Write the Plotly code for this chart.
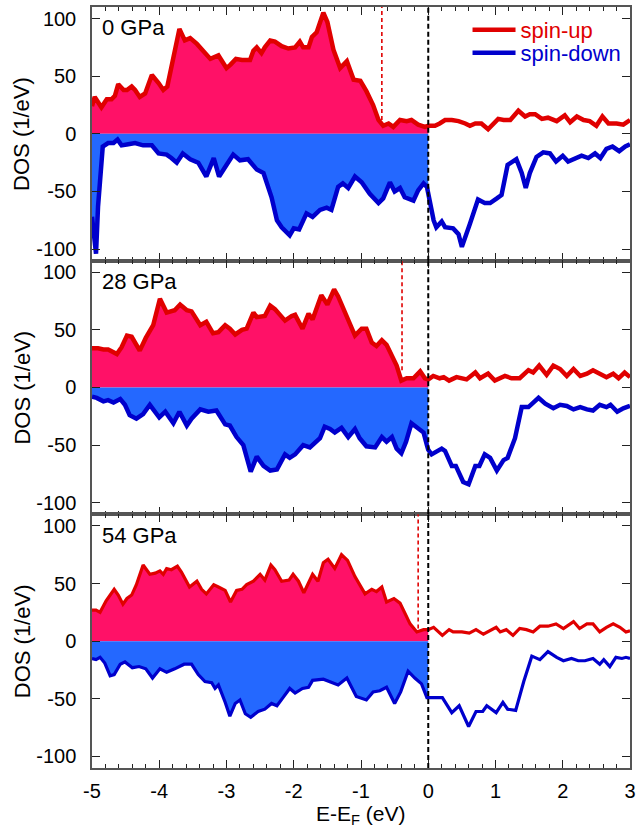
import plotly.graph_objects as go
from plotly.subplots import make_subplots

# ---------------- data ----------------
PRESSURES = ["0 GPa", "28 GPa", "54 GPa"]

E_up_0 = [-5.00,-4.96,-4.86,-4.78,-4.71,-4.66,-4.61,-4.53,-4.48,-4.41,-4.36,-4.29,-4.21,-4.11,-4.01,-3.94,-3.88,-3.80,-3.70,-3.62,
          -3.54,-3.44,-3.32,-3.24,-3.12,-3.00,-2.94,-2.86,-2.77,-2.65,-2.60,-2.55,-2.48,-2.43,-2.35,-2.28,-2.18,-2.08,-1.98,-1.91,
          -1.86,-1.78,-1.73,-1.66,-1.56,-1.50,-1.41,-1.31,-1.21,-1.11,-1.01,-0.92,-0.82,-0.74,-0.67,-0.59,-0.52,-0.42,-0.32,-0.25,
          -0.15,-0.05,0.00,
          0.10,0.17,0.25,0.35,0.45,0.55,0.62,0.70,0.79,0.89,0.97,1.04,1.12,1.22,1.34,1.44,1.51,1.59,1.69,1.78,
          1.91,2.03,2.11,2.21,2.31,2.40,2.50,2.59,2.68,2.80,2.90,3.00]
up_0 = [24,32,23,30,30,33,43,38,38,41,38,32,35,51,44,38,41,65,91,81,
        83,78,70,65,68,57,60,65,64,64,72,75,70,75,81,80,76,74,75,80,
        75,75,84,88,105,97,73,57,63,47,46,37,25,12,7,9,6,12,11,12,
        8,6,7,
        7,9,12,12,11,9,7,9,9,4,9,13,12,12,20,15,17,17,13,14,
        11,16,10,15,12,11,7,15,9,9,8,12]

E_dn_0 = [-5.00,-4.94,-4.91,-4.84,-4.76,-4.68,-4.62,-4.56,-4.46,-4.36,-4.24,-4.11,-4.01,-3.89,-3.82,-3.74,-3.65,-3.54,-3.42,-3.30,
          -3.19,-3.11,-3.00,-2.90,-2.80,-2.68,-2.55,-2.45,-2.33,-2.25,-2.18,-2.11,-2.06,-2.00,-1.92,-1.81,-1.72,-1.61,-1.51,-1.44,
          -1.34,-1.27,-1.19,-1.09,-0.99,-0.87,-0.74,-0.67,-0.57,-0.50,-0.42,-0.35,-0.22,-0.15,-0.07,-0.02,0.00,0.04,
          0.08,0.12,0.20,0.25,0.37,0.45,0.50,0.62,0.74,0.84,0.92,1.02,1.09,1.18,1.31,1.39,1.45,1.51,1.61,1.71,
          1.81,1.90,2.00,2.08,2.18,2.28,2.38,2.48,2.56,2.65,2.74,2.84,2.93,3.00]
dn_0 = [-72,-104,-63,-11,-8,-8,-5,-10,-9,-8,-10,-10,-17,-18,-21,-25,-17,-22,-25,-37,
        -21,-37,-27,-18,-23,-22,-31,-34,-55,-75,-81,-85,-88,-82,-83,-69,-72,-66,-64,-66,
        -46,-43,-47,-37,-42,-52,-60,-56,-42,-50,-47,-55,-58,-49,-43,-46,-52,-62,
        -75,-81,-76,-81,-82,-87,-98,-78,-57,-60,-60,-56,-53,-27,-22,-34,-47,-34,-20,-16,
        -17,-24,-19,-24,-21,-19,-21,-17,-21,-13,-11,-15,-11,-9]

E_up_28 = [-5.00,-4.91,-4.83,-4.76,-4.63,-4.56,-4.48,-4.41,-4.29,-4.20,-4.09,-3.99,-3.89,-3.77,-3.69,-3.59,-3.52,-3.39,-3.30,-3.20,
           -3.12,-3.02,-2.95,-2.87,-2.77,-2.70,-2.60,-2.55,-2.43,-2.35,-2.28,-2.13,-2.03,-1.98,-1.87,-1.78,-1.72,-1.59,-1.50,-1.40,
           -1.34,-1.21,-1.09,-0.99,-0.92,-0.84,-0.77,-0.69,-0.62,-0.47,-0.40,-0.32,-0.22,-0.12,-0.05,0.00,
           0.075,0.17,0.23,0.31,0.42,0.57,0.70,0.77,0.89,0.99,1.14,1.24,1.36,1.49,1.56,1.65,1.76,1.86,1.96,2.06,
           2.16,2.26,2.36,2.45,2.55,2.65,2.75,2.83,2.92,3.00]
up_28 = [34,34,33,33,29,35,45,44,32,43,54,77,65,67,72,67,66,54,57,47,
         48,54,51,46,50,51,65,61,62,71,68,58,62,63,51,64,59,80,72,85,
         79,60,45,51,51,39,36,41,37,19,6,8,8,14,8,7,
         10,8,9,6,9,7,13,8,12,6,10,8,8,15,13,19,11,19,16,10,
         16,10,12,15,12,9,12,8,13,9]

E_dn_28 = [-5.00,-4.93,-4.83,-4.76,-4.68,-4.58,-4.51,-4.44,-4.34,-4.24,-4.14,-4.00,-3.91,-3.79,-3.70,-3.59,-3.52,-3.39,-3.27,-3.15,
           -3.02,-2.95,-2.85,-2.75,-2.64,-2.55,-2.45,-2.35,-2.25,-2.13,-2.06,-1.98,-1.86,-1.76,-1.61,-1.54,-1.46,-1.39,-1.29,-1.19,
           -1.09,-1.02,-0.92,-0.79,-0.69,-0.62,-0.54,-0.47,-0.40,-0.33,-0.25,-0.15,-0.07,-0.02,0.00,
           0.05,0.10,0.20,0.25,0.35,0.41,0.52,0.60,0.70,0.76,0.84,0.92,1.02,1.12,1.18,1.29,1.39,1.49,1.64,1.74,
           1.86,1.96,2.06,2.16,2.26,2.36,2.45,2.55,2.65,2.71,2.81,2.90,3.00]
dn_28 = [-8,-9,-12,-11,-13,-10,-15,-24,-27,-23,-15,-26,-21,-31,-21,-33,-27,-19,-21,-20,
         -32,-33,-43,-50,-73,-60,-68,-72,-71,-58,-61,-58,-50,-52,-44,-34,-36,-39,-35,-43,
         -36,-44,-51,-52,-43,-47,-43,-53,-57,-47,-31,-35,-39,-50,-54,
         -58,-56,-53,-55,-68,-68,-82,-84,-68,-68,-58,-61,-72,-63,-61,-44,-17,-17,-9,-14,
         -18,-15,-16,-19,-17,-19,-20,-15,-17,-15,-21,-18,-16]

E_up_54 = [-5.00,-4.94,-4.88,-4.79,-4.67,-4.61,-4.54,-4.48,-4.41,-4.34,-4.24,-4.14,-4.06,-3.99,-3.94,-3.89,-3.82,-3.73,-3.67,-3.55,
           -3.44,-3.37,-3.30,-3.19,-3.12,-3.02,-2.94,-2.85,-2.77,-2.70,-2.60,-2.50,-2.43,-2.34,-2.28,-2.18,-2.07,-2.01,-1.93,-1.85,
           -1.72,-1.64,-1.56,-1.49,-1.39,-1.29,-1.20,-1.09,-0.94,-0.84,-0.77,-0.69,-0.62,-0.51,-0.42,-0.27,-0.17,-0.07,0.00,
           0.08,0.21,0.31,0.37,0.50,0.61,0.71,0.82,0.92,1.01,1.07,1.16,1.26,1.36,1.46,1.56,1.66,1.78,1.90,2.01,
           2.16,2.25,2.36,2.45,2.55,2.65,2.75,2.85,2.94,3.00]
up_54 = [27,27,25,35,45,40,32,37,40,49,66,58,59,61,58,63,62,65,60,47,
         52,45,41,49,47,44,34,44,45,49,52,58,53,66,62,52,53,58,52,42,
         58,52,68,71,63,75,70,56,41,45,43,47,34,37,33,15,8,10,10,
         12,5,10,8,8,7,10,6,9,12,8,10,5,11,10,8,13,13,15,11,
         17,11,15,15,8,12,15,12,8,9]

E_dn_54 = [-5.00,-4.94,-4.88,-4.81,-4.73,-4.67,-4.58,-4.51,-4.40,-4.30,-4.20,-4.10,-3.99,-3.89,-3.77,-3.63,-3.52,-3.42,-3.32,-3.22,
           -3.17,-3.12,-3.02,-2.95,-2.87,-2.80,-2.72,-2.64,-2.53,-2.43,-2.33,-2.25,-2.16,-2.06,-1.98,-1.87,-1.78,-1.72,-1.56,-1.46,
           -1.34,-1.21,-1.07,-0.92,-0.82,-0.72,-0.62,-0.50,-0.41,-0.30,-0.20,-0.10,-0.02,0.00,
           0.10,0.21,0.35,0.46,0.60,0.71,0.81,0.87,1.01,1.11,1.18,1.30,1.42,1.54,1.66,1.78,1.91,2.01,2.13,2.23,
           2.33,2.45,2.55,2.61,2.70,2.79,2.88,2.94,3.00]
dn_54 = [-15,-16,-14,-19,-30,-29,-20,-18,-23,-22,-24,-32,-24,-27,-24,-20,-20,-29,-35,-36,
         -41,-38,-53,-65,-54,-51,-63,-66,-61,-59,-54,-56,-49,-41,-45,-41,-40,-34,-33,-35,
         -38,-32,-48,-51,-44,-43,-40,-54,-44,-26,-32,-37,-49,-49,
         -49,-49,-62,-56,-74,-61,-61,-56,-62,-53,-59,-60,-35,-13,-16,-9,-14,-17,-15,-17,
         -17,-15,-20,-16,-22,-14,-15,-14,-15]

FERMI = 0.0
EDGE_E = [-0.69, -0.39, -0.15]        # red dashed band-edge markers
EDGE_LOW = [12, 15, 11]               # lower end of the red dashed markers
Y_TICKS = [-100, -50, 0, 50, 100]
Y_TICK_TEXT = ["-100", "-50", "0", "50", "100"]
X_TICKS = [-5, -4, -3, -2, -1, 0, 1, 2, 3]
X_TICK_TEXT = ["-5", "-4", "-3", "-2", "-1", "0", "1", "2", "3"]

panels = [(E_up_0, up_0, E_dn_0, dn_0),
          (E_up_28, up_28, E_dn_28, dn_28),
          (E_up_54, up_54, E_dn_54, dn_54)]

# ---------------- styles ----------------
FONT = "Liberation Sans, Arial, Helvetica, sans-serif"
RED_LINE = "#E00000"
RED_FILL = "#FF1167"
BLUE_LINE = "#0000CC"
BLUE_FILL = "#2468FF"
LINE_W = [4.5, 4.5, 3.2]
YMIN, YMAX = -110, 110

fig = make_subplots(rows=3, cols=1, shared_xaxes=True, vertical_spacing=0)

for i, (eu, vu, ed, vd) in enumerate(panels):
    r = i + 1
    fu = [(e, v) for e, v in zip(eu, vu) if e <= FERMI]
    fd = [(e, v) for e, v in zip(ed, vd) if e <= FERMI]
    fig.add_trace(go.Scatter(x=[p[0] for p in fu], y=[p[1] for p in fu], mode="lines",
                             line=dict(width=0, color=RED_FILL), fill="tozeroy",
                             fillcolor=RED_FILL, showlegend=False, hoverinfo="skip"), row=r, col=1)
    fig.add_trace(go.Scatter(x=[p[0] for p in fd], y=[p[1] for p in fd], mode="lines",
                             line=dict(width=0, color=BLUE_FILL), fill="tozeroy",
                             fillcolor=BLUE_FILL, showlegend=False, hoverinfo="skip"), row=r, col=1)
    fig.add_trace(go.Scatter(x=eu, y=vu, mode="lines",
                             line=dict(color=RED_LINE, width=LINE_W[i]),
                             name="<span style='color:%s'>spin-up</span>" % RED_LINE,
                             showlegend=(i == 0), legend="legend"), row=r, col=1)
    fig.add_trace(go.Scatter(x=ed, y=vd, mode="lines",
                             line=dict(color=BLUE_LINE, width=LINE_W[i]),
                             name="<span style='color:%s'>spin-down</span>" % BLUE_LINE,
                             showlegend=(i == 0), legend="legend2"), row=r, col=1)
    fig.add_trace(go.Scatter(x=[EDGE_E[i], EDGE_E[i]], y=[EDGE_LOW[i], YMAX], mode="lines",
                             line=dict(color=RED_LINE, width=1.6, dash="4px,3px"),
                             showlegend=False, hoverinfo="skip"), row=r, col=1)
    fig.add_vline(x=FERMI, line=dict(color="black", width=2, dash="5px,3px"), row=r, col=1)

    yname = "y" if r == 1 else "y%d" % r
    xname = "x" if r == 1 else "x%d" % r
    fig.add_annotation(text=PRESSURES[i], xref=xname + " domain", yref=yname + " domain",
                       x=0.014, y=0.918, xanchor="left", yanchor="middle", showarrow=False,
                       font=dict(family=FONT, size=22, color="black"))
    fig.add_annotation(text="DOS (1/eV)", xref="paper", yref=yname + " domain",
                       x=-0.130, y=0.5, xanchor="center", yanchor="middle", textangle=-90,
                       showarrow=False, font=dict(family=FONT, size=22, color="black"))

axis_common = dict(showline=True, linecolor="#555555", linewidth=1.5, mirror="ticks",
                   ticks="inside", ticklen=8, tickwidth=1.2, tickcolor="#222222",
                   showgrid=False, zeroline=False, automargin=False,
                   tickfont=dict(family=FONT, size=20, color="black"))

fig.update_xaxes(range=[-5, 3], tickvals=X_TICKS, ticktext=X_TICK_TEXT,
                 minor=dict(dtick=0.2, ticks="inside", ticklen=4, tickcolor="#222222", tickwidth=1),
                 ticklabelstandoff=4, **axis_common)
fig.update_yaxes(range=[YMIN, YMAX], tickvals=Y_TICKS, ticktext=Y_TICK_TEXT,
                 ticklabelstandoff=10, **axis_common)

fig.add_annotation(text="E-E<sub>F</sub> (eV)", xref="paper", yref="paper", x=0.5, y=-0.062,
                   xanchor="center", yanchor="middle", showarrow=False,
                   font=dict(family=FONT, size=21, color="black"))

legend_common = dict(xanchor="left", yanchor="middle", bgcolor="rgba(0,0,0,0)", borderwidth=0,
                     font=dict(family=FONT, size=22), itemwidth=43)
fig.update_layout(
    width=636, height=834,
    margin=dict(l=92, r=6, t=7, b=66, autoexpand=False),
    plot_bgcolor="white", paper_bgcolor="white",
    font=dict(family=FONT, color="black"),
    legend=dict(x=0.698, y=0.9698, **legend_common),
    legend2=dict(x=0.698, y=0.9396, **legend_common),
)

fig.write_html("out.html", config={"displayModeBar": False},
               post_script="document.body.style.margin='0';document.body.style.padding='0';")
